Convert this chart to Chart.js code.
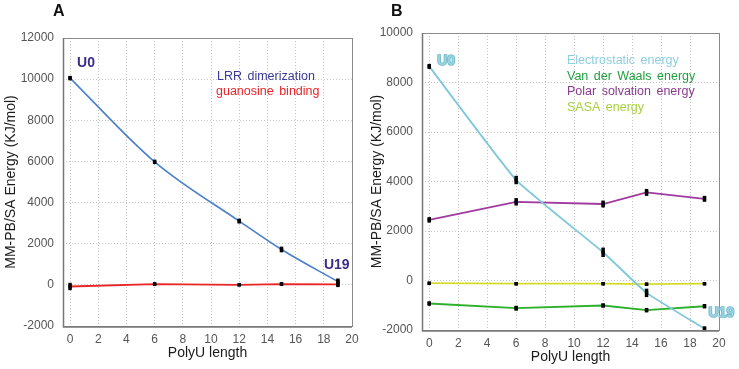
<!DOCTYPE html>
<html><head><meta charset="utf-8">
<script src="https://cdn.jsdelivr.net/npm/chart.js@4/dist/chart.umd.min.js"></script>
<style>
html,body{margin:0;padding:0;background:#fff;}
#wrap{position:relative;width:739px;height:369px;overflow:hidden;background:#fff;}
.panel{position:absolute;top:0;}
.letter{position:absolute;font:bold 16px "Liberation Sans",Arial,sans-serif;color:#111;line-height:18px;}
</style></head><body>
<div id="wrap">
<canvas id="cA" class="panel" style="left:0" width="370" height="369"></canvas>
<canvas id="cB" class="panel" style="left:370px" width="369" height="369"></canvas>
<div class="letter" style="left:53px;top:2px">A</div>
<div class="letter" style="left:391px;top:2px">B</div>
</div>
<script>
// ---- data ----
const polyU = [0, 6, 12, 15, 19];
const xTickValues = [0, 2, 4, 6, 8, 10, 12, 14, 16, 18, 20];
const yTicksA = [-2000, 0, 2000, 4000, 6000, 8000, 10000, 12000];
const yTicksB = [-2000, 0, 2000, 4000, 6000, 8000, 10000];

const lrrDimerization = [10050, 5980, 3100, 1720, 160];
const lrrErr = [60, 60, 70, 90, 100];
const guanosineBinding = [-80, 40, 0, 40, 20];
const guanosineErr = [130, 40, 30, 40, 80];

const electrostatic = [8650, 4060, 1140, -500, -1950];
const electrostaticErr = [60, 130, 150, 130, 60];
const vanDerWaals = [-930, -1120, -1010, -1200, -1040];
const vanDerWaalsErr = [50, 60, 50, 50, 50];
const polarSolvation = [2450, 3180, 3090, 3560, 3300];
const polarSolvationErr = [70, 110, 100, 100, 80];
const sasaEnergy = [-110, -130, -130, -150, -130];
const sasaErr = [30, 30, 30, 30, 30];

const FONT = '"Liberation Sans", Arial, sans-serif';

function pts(ys) { return polyU.map((x, i) => ({x: x, y: ys[i]})); }

function ds(label, ys, errs, color, width, smooth) {
  const d = {
    label: label, data: pts(ys), errors: errs,
    borderColor: color, borderWidth: width,
    pointStyle: 'rect', pointRadius: 2.3, pointBackgroundColor: '#000',
    pointBorderWidth: 0, fill: false, tension: 0
  };
  if (smooth === 'mono') d.cubicInterpolationMode = 'monotone';
  else if (typeof smooth === 'number') d.tension = smooth;
  return d;
}

const errorBarPlugin = {
  id: 'errbars',
  afterDatasetsDraw(chart) {
    const ctx = chart.ctx, ys = chart.scales.y, xs = chart.scales.x;
    ctx.save();
    ctx.strokeStyle = '#000'; ctx.lineWidth = 3.5; ctx.setLineDash([]);
    chart.data.datasets.forEach(d => {
      d.data.forEach((p, i) => {
        const e = d.errors[i];
        const px = xs.getPixelForValue(p.x);
        ctx.beginPath();
        ctx.moveTo(px, ys.getPixelForValue(p.y - e) + 1);
        ctx.lineTo(px, ys.getPixelForValue(p.y + e) - 1);
        ctx.stroke();
      });
    });
    ctx.restore();
  }
};

function framePlugin(texts, labels) {
  return {
    id: 'frame',
    afterDraw(chart) {
      const ctx = chart.ctx, a = chart.chartArea;
      const xs = chart.scales.x, ys = chart.scales.y;
      ctx.save();
      ctx.setLineDash([]);
      ctx.strokeStyle = '#8a8a8a'; ctx.lineWidth = 1;
      ctx.strokeRect(Math.round(a.left) + 0.5, Math.round(a.top) + 0.5,
                     Math.round(a.right - a.left), Math.round(a.bottom - a.top));
      ctx.strokeStyle = '#777'; ctx.lineWidth = 1.5;
      ctx.beginPath(); ctx.moveTo(Math.round(a.left) + 0.5, a.top); ctx.lineTo(Math.round(a.left) + 0.5, a.bottom + 1); ctx.lineTo(a.right, a.bottom + 1); ctx.stroke();
      ctx.textBaseline = 'middle'; ctx.textAlign = 'left';
      try { ctx.wordSpacing = '2px'; } catch (e) {}
      texts.forEach(t => {
        ctx.font = '12.5px ' + FONT;
        ctx.fillStyle = t.color;
        ctx.fillText(t.text, a.left + t.dx, a.top + t.dy);
      });
      try { ctx.wordSpacing = '0px'; } catch (e) {}
      labels.forEach(l => {
        const px = xs.getPixelForValue(l.x) + l.dx;
        const py = ys.getPixelForValue(l.y) + l.dy;
        ctx.font = 'bold 14px ' + FONT;
        if (l.stroke) {
          ctx.lineWidth = 1.6; ctx.strokeStyle = l.stroke; ctx.strokeText(l.text, px, py);
        }
        ctx.fillStyle = l.color;
        ctx.fillText(l.text, px, py);
      });
      ctx.restore();
    }
  };
}

function makeChart(id, datasets, yMin, yMax, yTicks, padTop, padRight, yWidth, xHeight, yTitlePad, yTitleLH, xTitlePadB, plugins) {
  return new Chart(document.getElementById(id), {
    type: 'line',
    data: { datasets: datasets },
    options: {
      responsive: false, animation: false,
      layout: { padding: { left: 0, right: padRight, top: padTop, bottom: 0 } },
      plugins: { legend: { display: false }, tooltip: { enabled: false } },
      scales: {
        x: {
          type: 'linear', min: -0.5, max: 20,
          afterBuildTicks: s => { s.ticks = xTickValues.map(v => ({ value: v })); },
          afterFit: s => { s.height = xHeight; },
          ticks: { padding: 6, autoSkip: false, maxRotation: 0, color: '#555', font: { family: FONT, size: 12 }, callback: v => String(v) },
          grid: { color: '#c4c4c4', lineWidth: 1, drawTicks: false },
          border: { display: false, dash: [1, 2] },
          title: { display: true, text: 'PolyU length', color: '#1a1a1a', font: { family: FONT, size: 14 }, padding: { top: 0, bottom: xTitlePadB } }
        },
        y: {
          type: 'linear', min: yMin, max: yMax,
          afterBuildTicks: s => { s.ticks = yTicks.map(v => ({ value: v })); },
          afterFit: s => { s.width = yWidth; },
          ticks: { padding: 9, color: '#555', font: { family: FONT, size: 12 }, callback: v => String(v) },
          grid: { color: '#c4c4c4', lineWidth: 1, drawTicks: false },
          border: { display: false, dash: [1, 2] },
          title: { display: true, text: 'MM-PB/SA Energy (KJ/mol)', color: '#1a1a1a', font: { family: FONT, size: 14, lineHeight: yTitleLH }, padding: { top: yTitlePad, bottom: 0 } }
        }
      }
    },
    plugins: plugins
  });
}

makeChart('cA', [
  ds('LRR dimerization', lrrDimerization, lrrErr, '#4a80cc', 1.6, 'mono'),
  ds('guanosine binding', guanosineBinding, guanosineErr, '#e82424', 1.8, 0)
], -2000, 12000, yTicksA, 38, 18, 63, 43, 2.6, 1.2, 7.6, [
  errorBarPlugin,
  framePlugin([
    { text: 'LRR dimerization', color: '#3a3a9a', dx: 154, dy: 39 },
    { text: 'guanosine binding', color: '#e82428', dx: 153, dy: 54 }
  ], [
    { text: 'U0', x: 0, y: 10050, dx: 7, dy: -15, color: '#3c2d8c' },
    { text: 'U19', x: 19, y: 160, dx: -14, dy: -16, color: '#3c2d8c' }
  ])
]);

makeChart('cB', [
  ds('Electrostatic energy', electrostatic, electrostaticErr, '#7ec8da', 1.8, 0.12),
  ds('Van der Waals energy', vanDerWaals, vanDerWaalsErr, '#2cb02c', 1.8, 0),
  ds('Polar solvation energy', polarSolvation, polarSolvationErr, '#a03aa0', 1.8, 0),
  ds('SASA energy', sasaEnergy, sasaErr, '#d4dc28', 1.8, 0)
], -2000, 10000, yTicksB, 33, 20, 52, 39, 0, 1.0, 3.6, [
  errorBarPlugin,
  framePlugin([
    { text: 'Electrostatic energy', color: '#8dcfe0', dx: 145, dy: 28 },
    { text: 'Van der Waals energy', color: '#22a040', dx: 145, dy: 44 },
    { text: 'Polar solvation energy', color: '#8c3a90', dx: 145, dy: 59 },
    { text: 'SASA energy', color: '#a8d040', dx: 145, dy: 75 }
  ], [
    { text: 'U0', x: 0, y: 8650, dx: 8, dy: -5, color: '#9ad4e2', stroke: '#6fb8c8' },
    { text: 'U19', x: 19, y: -1950, dx: 4, dy: -16, color: '#9ad4e2', stroke: '#6fb8c8' }
  ])
]);
</script>
</body></html>
